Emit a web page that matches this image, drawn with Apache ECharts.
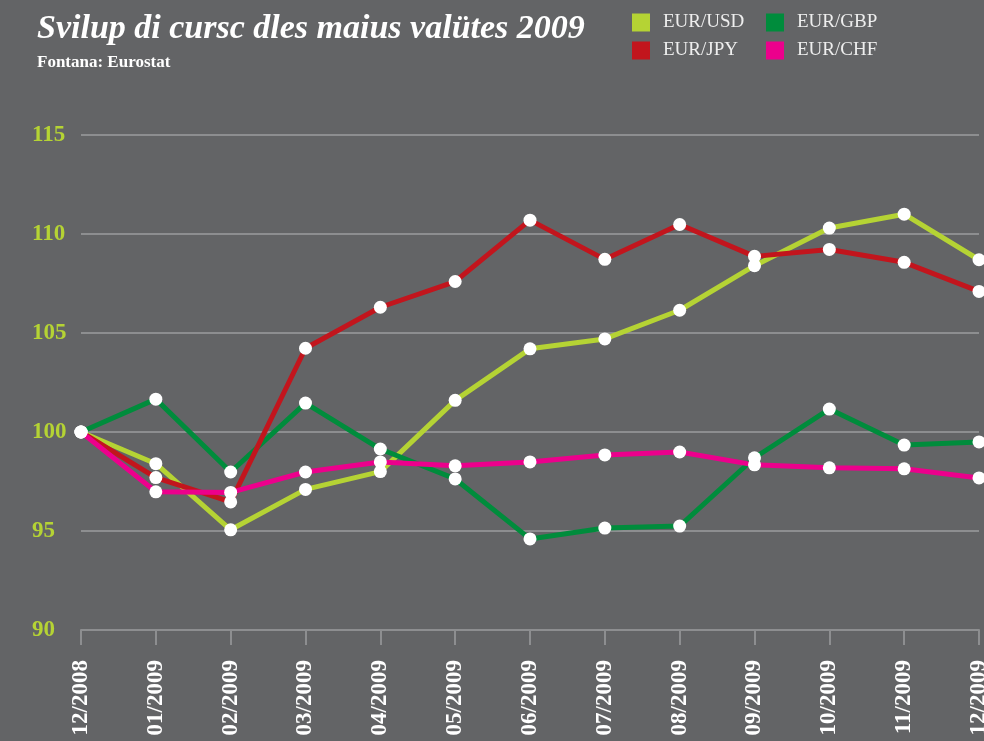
<!DOCTYPE html>
<html>
<head>
<meta charset="utf-8">
<script src="https://cdn.jsdelivr.net/npm/echarts@6/dist/echarts.min.js"></script>
<style>
  html, body { margin: 0; padding: 0; background: #636466; }
  #main { width: 984px; height: 741px; }
</style>
</head>
<body>
<div id="main"></div>
<script>
  var months = ['12/2008', '01/2009', '02/2009', '03/2009', '04/2009', '05/2009', '06/2009',
    '07/2009', '08/2009', '09/2009', '10/2009', '11/2009', '12/2009'];
  var eurUsd = [100, 98.4, 95.06, 97.1, 98.0, 101.6, 104.2, 104.7, 106.15, 108.4, 110.3, 111.0, 108.7];
  var eurGbp = [100, 101.66, 97.98, 101.46, 99.14, 97.63, 94.6, 95.15, 95.25, 98.7, 101.16, 99.34, 99.5];
  var eurJpy = [100, 97.7, 96.47, 104.23, 106.3, 107.6, 110.7, 108.72, 110.48, 108.87, 109.22, 108.57, 107.1];
  var eurChf = [100, 96.98, 96.95, 97.98, 98.49, 98.29, 98.49, 98.84, 98.99, 98.34, 98.19, 98.14, 97.68];

  var names = ['EUR/USD', 'EUR/GBP', 'EUR/JPY', 'EUR/CHF'];
  var colors = ['#b5d334', '#008c3c', '#c2151d', '#ec008c'];
  var values = [eurUsd, eurGbp, eurJpy, eurChf];
  var legendPos = [[632, 13], [766, 13], [632, 41], [766, 41]];
  var serif = '"Liberation Serif", "DejaVu Serif", serif';

  var chart = echarts.init(document.getElementById('main'));
  chart.setOption({
    backgroundColor: '#636466',
    animation: false,
    title: {
      text: 'Svilup di cursc dles maius valütes 2009',
      subtext: 'Fontana: Eurostat',
      left: 32, top: 7,
      itemGap: 8,
      textStyle: {color: '#fff', fontFamily: serif, fontStyle: 'italic', fontWeight: 'bold', fontSize: 34},
      subtextStyle: {color: '#fff', fontFamily: serif, fontWeight: 'bold', fontSize: 17}
    },
    legend: names.map(function (n, i) {
      return {
        data: [{name: n, itemStyle: {color: colors[i]}}],
        left: legendPos[i][0], top: legendPos[i][1],
        padding: 0,
        icon: 'rect', itemWidth: 18, itemHeight: 18,
        selectedMode: false,
        textStyle: {color: '#eeeeee', fontFamily: serif, fontSize: 19, padding: [0, 0, 0, 8]}
      };
    }),
    grid: {left: 81, right: 5, top: 135, bottom: 111, outerBoundsMode: 'none', containLabel: false},
    xAxis: {
      type: 'category',
      boundaryGap: false,
      data: months,
      axisLine: {lineStyle: {color: '#8d8e90', width: 2}},
      axisTick: {length: 15, lineStyle: {color: '#8d8e90', width: 2}},
      axisLabel: {
        rotate: 90, margin: 30, interval: 0,
        color: '#fff', fontFamily: serif, fontWeight: 'bold', fontSize: 23
      }
    },
    yAxis: {
      type: 'value',
      min: 90, max: 115, interval: 5,
      axisLine: {show: false},
      axisTick: {show: false},
      axisLabel: {
        align: 'left', margin: 49,
        color: '#b5d334', fontFamily: serif, fontWeight: 'bold', fontSize: 23
      },
      splitLine: {lineStyle: {color: '#8d8e90', width: 2}}
    },
    series: names.map(function (n, i) {
      return {
        name: n,
        type: 'line',
        data: values[i],
        color: colors[i],
        symbol: 'circle',
        symbolSize: 13,
        itemStyle: {color: '#fff'},
        lineStyle: {color: colors[i], width: 5},
        emphasis: {disabled: true}
      };
    })
  });
</script>
</body>
</html>
